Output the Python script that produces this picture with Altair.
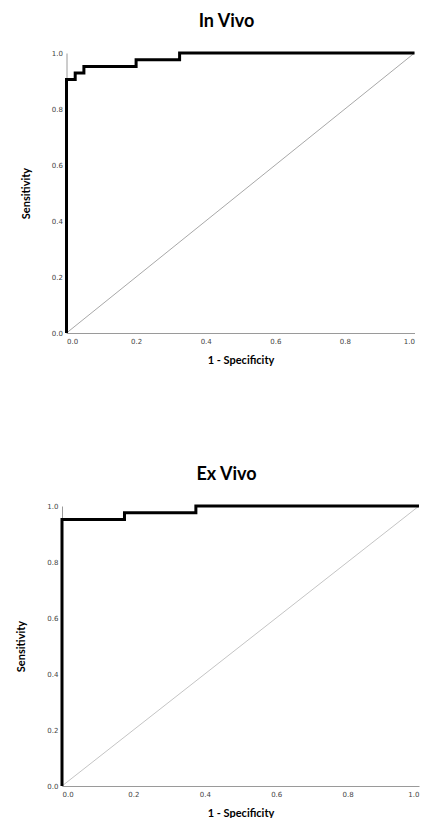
import altair as alt
import pandas as pd

# In Vivo ROC curve vertices (1 - specificity, sensitivity)
in_fpr = [0.0, 0.0, 0.025, 0.05, 0.2, 0.325, 1.0]
in_tpr = [0.0, 0.905, 0.929, 0.952, 0.976, 1.0, 1.0]
# Ex Vivo ROC curve vertices
ex_fpr = [0.0, 0.0, 0.175, 0.375, 1.0]
ex_tpr = [0.0, 0.952, 0.976, 1.0, 1.0]
# reference diagonal
ref_x = [0.0, 1.0]
ref_y = [0.0, 1.0]
ticks = [0.0, 0.2, 0.4, 0.6, 0.8, 1.0]


def panel(title, fpr, tpr, width, diag_color):
    roc = pd.DataFrame({"fpr": fpr, "tpr": tpr, "i": list(range(len(fpr)))})
    ref = pd.DataFrame({"fpr": ref_x, "tpr": ref_y, "i": [0, 1]})
    x = alt.X("fpr:Q", scale=alt.Scale(domain=[0, 1], nice=False),
              axis=alt.Axis(values=ticks, format=".1f", title="1 - Specificity",
                            titlePadding=10))
    y = alt.Y("tpr:Q", scale=alt.Scale(domain=[0, 1], nice=False),
              axis=alt.Axis(values=ticks, format=".1f", title="Sensitivity",
                            titlePadding=20))
    diag = alt.Chart(ref).mark_line(color=diag_color, strokeWidth=1).encode(
        x=x, y=y, order="i:Q")
    line = alt.Chart(roc).mark_line(color="black", strokeWidth=3,
                                    interpolate="step-after",
                                    strokeJoin="miter").encode(
        x=x, y=y, order="i:Q")
    return alt.layer(diag, line).properties(
        width=width, height=280,
        title=alt.TitleParams(title, fontSize=18, font="Lato",
                              fontWeight="bold", color="black",
                              anchor="middle", offset=16, dx=-14))


top = panel("In Vivo", in_fpr, in_tpr, 348, "#a8a8a8")
bottom = panel("Ex Vivo", ex_fpr, ex_tpr, 357, "#c4c4c4")

chart = alt.vconcat(top, bottom, spacing=101, center=True).properties(
    padding={"left": 7, "top": 5, "right": 5, "bottom": 0}
).configure_view(strokeWidth=0).configure_axis(
    grid=False, ticks=False, domainColor="#9a9a9a", domainWidth=1,
    labelFont="DejaVu Sans", labelFontSize=7, labelColor="#444444",
    labelPadding=4, titleFont="Lato", titleFontSize=11,
    titleFontWeight="bold", titleColor="black"
)

chart.save("out.html", embed_options={"renderer": "svg", "actions": False})
